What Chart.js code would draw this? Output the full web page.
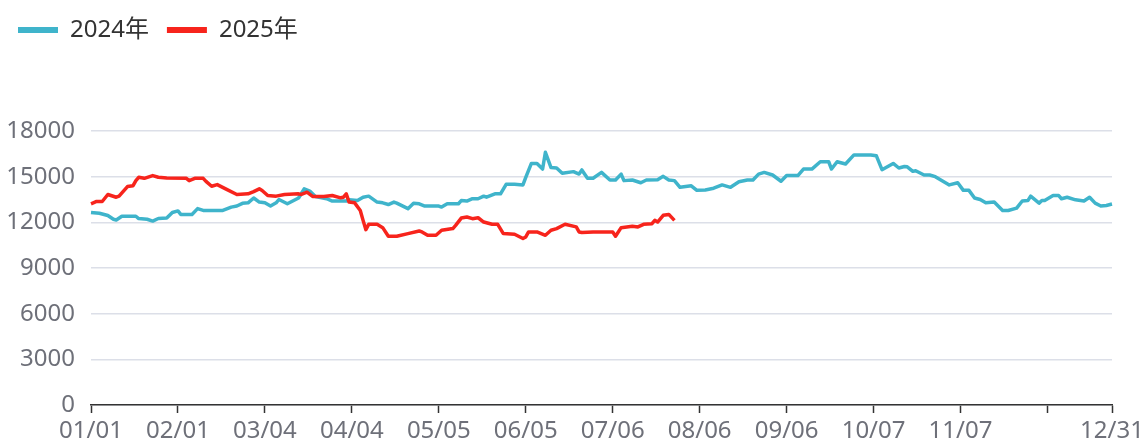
<!DOCTYPE html>
<html>
<head>
<meta charset="utf-8">
<script src="https://cdn.jsdelivr.net/npm/chart.js"></script>
<style>
  html, body { margin: 0; padding: 0; background: #fff; }
  #wrap { width: 1143px; height: 444px; }
</style>
</head>
<body>
<div id="wrap"><canvas id="chart"></canvas></div>
<script>
// categorias: um ano sem 29/02, rótulo MM/DD
const monthDays = [31, 28, 31, 30, 31, 30, 31, 31, 30, 31, 30, 31];
const dayLabels = [];
monthDays.forEach((n, m) => {
    for (let d = 1; d <= n; d++) {
        dayLabels.push(String(m + 1).padStart(2, '0') + '/' + String(d).padStart(2, '0'));
    }
});

const seriesNames = ['2024年', '2025年'];
const yTicks = [0, 3000, 6000, 9000, 12000, 15000, 18000];

// 2024
const dates2024 = [
    '01/01', '01/04', '01/07', '01/09', '01/10', '01/12', '01/17', '01/18', '01/21', '01/23', '01/25', '01/28', '01/30',
    '02/01', '02/02', '02/06', '02/08', '02/10', '02/17', '02/20', '02/22', '02/24', '02/26', '02/28',
    '03/02', '03/04', '03/06', '03/08', '03/09', '03/12', '03/16', '03/18', '03/20', '03/22', '03/26', '03/28',
    '04/02', '04/03', '04/06', '04/08', '04/10', '04/13', '04/15', '04/17', '04/19', '04/20', '04/24', '04/26', '04/28', '04/30',
    '05/05', '05/06', '05/08', '05/12', '05/13', '05/15', '05/17', '05/19', '05/21', '05/22', '05/25', '05/27', '05/29',
    '06/01', '06/04', '06/05', '06/07', '06/09', '06/11', '06/12', '06/14', '06/16', '06/18', '06/22', '06/24', '06/25', '06/27', '06/29',
    '07/02', '07/05', '07/07', '07/09', '07/10', '07/13', '07/16', '07/18', '07/22', '07/24', '07/26', '07/28', '07/30',
    '08/03', '08/05', '08/08', '08/11', '08/14', '08/17', '08/20', '08/23', '08/25', '08/27', '08/29',
    '09/01', '09/04', '09/06', '09/10', '09/12', '09/15', '09/18', '09/21', '09/22', '09/24', '09/27', '09/30',
    '10/06', '10/08', '10/10', '10/14', '10/16', '10/18', '10/19', '10/21', '10/22', '10/25', '10/27', '10/29',
    '11/03', '11/06', '11/08', '11/10', '11/12', '11/14', '11/16', '11/19', '11/22', '11/24', '11/27', '11/29',
    '12/01', '12/02', '12/05', '12/06', '12/07', '12/10', '12/12', '12/13', '12/15', '12/18', '12/21', '12/23', '12/25', '12/27', '12/29', '12/31'
];
const values2024 = [
    12650, 12600, 12450, 12200, 12150, 12400, 12400, 12250, 12200, 12080, 12250, 12280, 12650,
    12750, 12520, 12520, 12900, 12780, 12780, 13000, 13070, 13250, 13280, 13600,
    13330, 13280, 13070, 13280, 13500, 13220, 13600, 14200, 14050, 13700, 13550, 13400,
    13400, 13480, 13430, 13650, 13720, 13330, 13280, 13170, 13330, 13260, 12900, 13260, 13220, 13070,
    13070, 13000, 13220, 13220, 13430, 13400, 13550, 13550, 13720, 13650, 13870, 13870, 14500,
    14500, 14460, 14950, 15870, 15870, 15500, 16600, 15600, 15570, 15220, 15330, 15170, 15440, 14900, 14900,
    15280, 14780, 14780, 15170, 14740, 14780, 14600, 14780, 14800, 15020, 14780, 14740, 14300,
    14400, 14100, 14130, 14240, 14460, 14300, 14670, 14780, 14780, 15170, 15280,
    15110, 14700, 15070, 15070, 15500, 15500, 15980, 15980, 15500, 15980, 15830, 16430,
    16430, 16370, 15460, 15870, 15570, 15670, 15650, 15350, 15390, 15110, 15110, 15000,
    14460, 14600, 14100, 14100, 13600, 13500, 13280, 13330, 12780, 12780, 12930, 13400,
    13430, 13720, 13260, 13430, 13430, 13760, 13760, 13550, 13650, 13480, 13400, 13650, 13260, 13070, 13110, 13200
];

// 2025
const dates2025 = [
    '01/01', '01/03', '01/05', '01/07', '01/10', '01/11', '01/14', '01/16', '01/17', '01/18', '01/20', '01/23', '01/25', '01/28',
    '02/04', '02/05', '02/07', '02/10', '02/11', '02/13', '02/15', '02/18', '02/22', '02/26', '02/28',
    '03/02', '03/03', '03/05', '03/08', '03/11', '03/16', '03/17', '03/19', '03/21', '03/25', '03/28', '03/31',
    '04/01', '04/02', '04/03', '04/05', '04/07', '04/08', '04/09', '04/10', '04/13', '04/15', '04/17', '04/20', '04/24', '04/28', '04/29',
    '05/01', '05/04', '05/06', '05/10', '05/11', '05/13', '05/15', '05/17', '05/19', '05/21', '05/24', '05/26', '05/28',
    '06/01', '06/04', '06/05', '06/06', '06/09', '06/12', '06/14', '06/16', '06/19', '06/23', '06/24', '06/25', '06/29',
    '07/06', '07/07', '07/09', '07/13', '07/15', '07/17', '07/20', '07/21', '07/22', '07/24', '07/26', '07/28'
];
const values2025 = [
    13220, 13370, 13370, 13830, 13650, 13720, 14350, 14410, 14740, 14960, 14890, 15070, 14960, 14920,
    14890, 14740, 14890, 14890, 14690, 14370, 14480, 14200, 13830, 13870, 14020,
    14200, 14090, 13760, 13720, 13830, 13870, 13830, 13980, 13700, 13700, 13760, 13610,
    13650, 13870, 13330, 13280, 12780, 12130, 11520, 11870, 11870, 11650, 11090, 11090, 11260, 11430, 11370,
    11150, 11150, 11480, 11590, 11800, 12280, 12350, 12240, 12300, 12020, 11870, 11870, 11260,
    11220, 10940, 11040, 11370, 11370, 11150, 11480, 11590, 11870, 11700, 11370, 11330, 11370,
    11370, 11090, 11650, 11740, 11700, 11870, 11910, 12130, 12020, 12460, 12520, 12130
];

const FONT = "'Noto Sans', 'Noto Sans CJK SC', sans-serif";
const toPoints = (dates, values) => dates.map((d, i) => ({ x: d, y: values[i] }));

// espaço vazio entre a legenda e a área do gráfico
const legendSpacer = {
    id: 'legendSpacer',
    beforeInit(chart) {
        const fit = chart.legend.fit;
        chart.legend.fit = function () {
            fit.call(this);
            this.height += 79;
        };
    }
};

new Chart(document.getElementById('chart'), {
    type: 'line',
    data: {
        labels: dayLabels,
        datasets: [{
            label: seriesNames[0],
            data: toPoints(dates2024, values2024),
            borderColor: '#3fb4cb',
            backgroundColor: '#3fb4cb',
            borderWidth: 3.5,
            pointRadius: 0,
            tension: 0,
            borderJoinStyle: 'round',
            order: 1
        }, {
            label: seriesNames[1],
            data: toPoints(dates2025, values2025),
            borderColor: '#f7241c',
            backgroundColor: '#f7241c',
            borderWidth: 3.5,
            pointRadius: 0,
            tension: 0,
            borderJoinStyle: 'round',
            order: 0
        }]
    },
    options: {
        responsive: true,
        maintainAspectRatio: false,
        animation: false,
        plugins: {
            legend: {
                align: 'start',
                labels: {
                    boxWidth: 40,
                    boxHeight: 6,
                    padding: 18,
                    color: '#333',
                    font: { family: FONT, size: 24 },
                    sort: (a, b) => a.datasetIndex - b.datasetIndex,
                    generateLabels: (chart) =>
                        Chart.defaults.plugins.legend.labels.generateLabels(chart)
                            .map(item => Object.assign(item, { lineWidth: 0 }))
                }
            },
            tooltip: { enabled: false }
        },
        scales: {
            x: {
                offset: false,
                afterBuildTicks: (scale) => {
                    scale.ticks = scale.ticks.filter(t => t.value % 31 === 0 || t.value === dayLabels.length - 1);
                },
                afterFit: (scale) => {
                    scale.height = 39;
                    scale.paddingLeft = 0;
                    scale.paddingRight = 31;
                },
                grid: {
                    drawOnChartArea: false,
                    tickLength: 8,
                    tickColor: '#333',
                    tickWidth: 1.5
                },
                border: { color: '#333', width: 1.5 },
                ticks: {
                    autoSkip: false,
                    maxRotation: 0,
                    padding: 4,
                    color: '#6e7079',
                    font: { family: FONT, size: 24 },
                    callback: function (value) {
                        // o rótulo de 12/08 fica oculto, colado em 12/31
                        if (value === 341) return '';
                        return this.getLabelForValue(value);
                    }
                }
            },
            y: {
                min: yTicks[0],
                max: yTicks[yTicks.length - 1],
                afterBuildTicks: (scale) => {
                    scale.ticks = yTicks.map(v => ({ value: v }));
                },
                afterFit: (scale) => {
                    scale.width = 91;
                },
                grid: { color: '#dcdfe8', lineWidth: 1.5, drawTicks: false },
                border: { display: false },
                ticks: {
                    padding: 16,
                    color: '#6e7079',
                    font: { family: FONT, size: 24 },
                    callback: (v) => String(v)
                }
            }
        }
    },
    plugins: [legendSpacer]
});
</script>
</body>
</html>
